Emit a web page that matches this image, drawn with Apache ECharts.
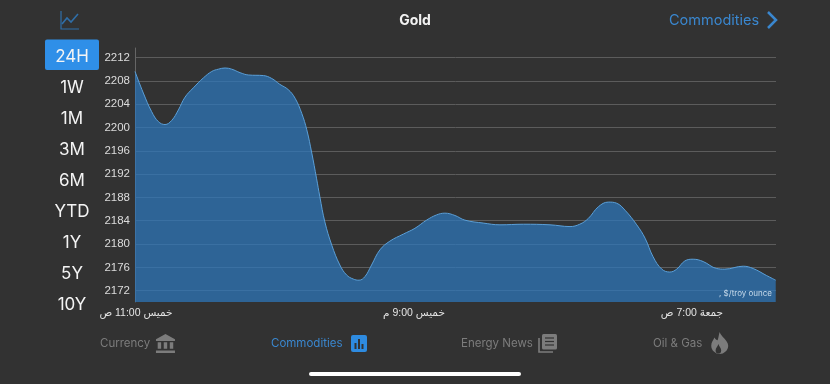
<!DOCTYPE html>
<html>

<head>
    <meta charset="utf-8">
    <script type="text/javascript" src="https://cdn.jsdelivr.net/npm/echarts@6/dist/echarts.min.js"></script>
    <title>Gold</title>
    <style>
        html, body { margin: 0; padding: 0; background: #323232; }
    </style>
</head>

<body>
    <div id="container" style="width:830px;height:384px;"></div>
    <script type="text/javascript">
    // hours since the first tick (Thursday 11:00)
    var hours = [0, 0.3, 0.6, 0.84, 1.08, 1.32, 1.56, 1.8, 2.1, 2.46, 2.76, 3.0, 3.24, 3.48, 3.78, 4.08, 4.62, 4.92,
        5.21, 5.51, 5.76, 6.0, 6.18, 6.36, 6.53, 6.65, 6.83, 7.08, 7.37, 7.61, 7.85, 8.06, 8.27, 8.51, 8.81, 9.17,
        9.65, 10.07, 10.49, 10.85, 11.15, 11.51, 11.87, 12.53, 13.13, 13.97, 14.93, 15.65, 16.0, 16.31, 16.67, 17.03,
        17.33, 17.63, 18.05, 18.35, 18.64, 18.95, 19.24, 19.49, 19.78, 20.08, 20.44, 20.93, 21.22, 21.88, 22.24, 22.72, 23.05];
    var prices = [2209.6, 2205.9, 2202.7, 2201.0, 2200.5, 2201.2, 2203.0, 2205.2, 2206.8, 2208.5, 2209.6, 2210.0, 2210.2, 2210.0, 2209.4, 2209.0, 2208.9, 2208.4,
        2207.4, 2206.5, 2205.0, 2202.4, 2199.6, 2195.6, 2191.3, 2188.1, 2183.8, 2179.8, 2176.4, 2174.7, 2174.0, 2173.8, 2174.4, 2176.4, 2179.0, 2180.5,
        2181.7, 2182.7, 2184.1, 2185.0, 2185.3, 2184.9, 2184.1, 2183.6, 2183.3, 2183.4, 2183.3, 2183.0, 2183.4, 2184.4, 2186.4, 2187.2,
        2187.0, 2185.8, 2183.3, 2181.0, 2177.8, 2175.7, 2175.2, 2175.7, 2177.1, 2177.4, 2177.0, 2175.8, 2175.7, 2176.2, 2175.8, 2174.6, 2173.8];

    var yTicks = [2172, 2176, 2180, 2184, 2188, 2192, 2196, 2200, 2204, 2208, 2212];
    var xTicks = [0, 10, 20];
    var xTickLabels = ['خميس 11:00 ص', 'خميس 9:00 م', 'جمعة 7:00 ص'];

    var ranges = ['24H', '1W', '1M', '3M', '6M', 'YTD', '1Y', '5Y', '10Y'];

    var uiFont = 'Inter, Roboto, "Liberation Sans", sans-serif';
    var blue = '#3a87cf';
    var grey = '#7c7c7c';
    var bg = '#323232';

    // the graphic component has no plain path type, so register the icons as shapes
    echarts.graphic.registerShape('bankIcon', echarts.graphic.extendPath('M12 0 L23 6 V8 H1 V6Z M3 9.5H7V17H3Z M10 9.5H14V17H10Z M17 9.5H21V17H17Z M1 19H23V22H1Z'));
    echarts.graphic.registerShape('flameIcon', echarts.graphic.extendPath('M12 0 C13 5 20 9 20 15 C20 20 16 24 12 24 C8 24 4 20 4 15 C4 11 6 9 7 6 C8 8 9 9 10 9 C11 6 11 3 12 0Z'));
    echarts.graphic.registerShape('flameInner', echarts.graphic.extendPath('M12 0 C13 3 16 5 16 8 C16 11 14 12 12 12 C10 12 8 11 8 8 C8 5 11 3 12 0Z'));

    function label(text, x, y, size, color, align, weight) {
        return {
            type: 'text', x: x, y: y, silent: true, z: 10,
            style: {
                text: text, fill: color, font: (weight || 'normal') + ' ' + size + 'px ' + uiFont,
                textAlign: align || 'left', textVerticalAlign: 'middle'
            }
        };
    }

    function icon(name, x, y, sx, sy, color) {
        return { type: name, silent: true, x: x, y: y, scaleX: sx, scaleY: sy, style: { fill: color } };
    }

    function strokeLine(points, color, width) {
        return {
            type: 'polyline', silent: true,
            shape: { points: points },
            style: { stroke: color, lineWidth: width, fill: null }
        };
    }

    var graphics = [
        label('Gold', 415, 21, 14, '#f2f2f2', 'center', 'bold'),
        label('Commodities', 669, 21, 14.5, blue),
        strokeLine([[768, 12], [776, 20], [768, 28]], blue, 2.5),
        // chart icon, top left
        strokeLine([[61, 11], [61, 29], [79, 29]], '#2f6ea8', 1.2),
        strokeLine([[62, 24], [67, 18], [71, 22], [78, 14]], '#2f6ea8', 1.6),
        // selected range
        { type: 'rect', silent: true, shape: { x: 45, y: 39.5, width: 54, height: 30.5, r: 2 }, style: { fill: '#2f8fe8' } },
        // unit note in the plot corner
        label(', $/troy ounce', 772, 293.5, 8, '#c9dcec', 'right'),
        // bottom tabs
        label('Currency', 100, 344, 11.5, grey),
        icon('bankIcon', 155.1, 334, 0.864, 0.864, grey),
        label('Commodities', 271, 344, 11.5, blue),
        { type: 'rect', silent: true, shape: { x: 351, y: 335, width: 16, height: 17, r: 2 }, style: { fill: '#2e8be0' } },
        { type: 'rect', silent: true, z: 1, shape: { x: 354.5, y: 343, width: 2, height: 6 }, style: { fill: bg } },
        { type: 'rect', silent: true, z: 1, shape: { x: 358, y: 339, width: 2, height: 10 }, style: { fill: bg } },
        { type: 'rect', silent: true, z: 1, shape: { x: 361.5, y: 344, width: 2, height: 5 }, style: { fill: bg } },
        label('Energy News', 461, 344, 11.5, grey),
        strokeLine([[539, 338], [539, 352], [553, 352]], grey, 1.6),
        { type: 'rect', silent: true, shape: { x: 542, y: 334, width: 15, height: 15.5, r: 1.5 }, style: { fill: grey } },
        strokeLine([[545, 338], [554, 338]], bg, 1.2),
        strokeLine([[545, 341.5], [554, 341.5]], bg, 1.2),
        strokeLine([[545, 345], [554, 345]], bg, 1.2),
        label('Oil & Gas', 653, 344, 11.5, grey),
        icon('flameIcon', 707, 332, 1.06, 0.92, grey),
        icon('flameInner', 710, 344, 0.7, 0.8, bg),
        // home indicator
        { type: 'rect', silent: true, shape: { x: 309, y: 372, width: 212, height: 4, r: 2 }, style: { fill: '#ffffff' } }
    ];

    ranges.forEach(function (r, i) {
        graphics.push(label(r, 72, 56.5 + i * 31, 17, '#f4f4f4', 'center'));
    });

    var myChart = echarts.init(document.getElementById('container'), null, { renderer: 'canvas' });

    var option = {
        animation: false,
        backgroundColor: bg,
        textStyle: { fontFamily: '"Liberation Sans", "DejaVu Sans", sans-serif' },
        grid: { left: 135, right: 54, top: 48, bottom: 82 },
        xAxis: {
            type: 'value',
            min: 0,
            max: 23.06,
            axisLine: { show: false },
            axisTick: { show: false },
            splitLine: { show: false },
            axisLabel: {
                customValues: xTicks,
                color: '#e4e4e4',
                fontSize: 10.5,
                margin: 6,
                padding: [0, 0, 0, 2],
                showMinLabel: true,
                fontFamily: '"Liberation Sans", "DejaVu Sans", sans-serif',
                formatter: function (v) { return xTickLabels[xTicks.indexOf(v)]; }
            }
        },
        yAxis: {
            type: 'value',
            min: 2170.06,
            max: 2213.63,
            axisLine: { show: true, lineStyle: { color: '#666666', width: 1 } },
            axisTick: { show: false, customValues: yTicks },
            splitLine: { show: true, lineStyle: { color: '#5c5c5c', width: 1 } },
            axisLabel: {
                customValues: yTicks,
                color: '#dcdcdc',
                fontSize: 11.5,
                margin: 5,
                formatter: function (v) { return String(v); }
            }
        },
        series: [{
            type: 'line',
            data: hours.map(function (h, i) { return [h, prices[i]]; }),
            smooth: 0.4,
            showSymbol: false,
            lineStyle: { color: '#5a9fd8', width: 1 },
            areaStyle: { color: 'rgba(44,121,193,0.7)', opacity: 1 }
        }],
        graphic: graphics
    };

    myChart.setOption(option);
    </script>
</body>

</html>
